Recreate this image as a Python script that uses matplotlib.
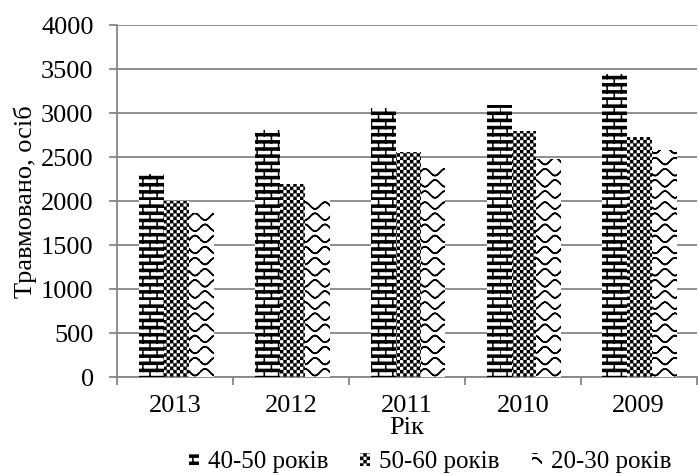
import warnings
import numpy as np
import matplotlib
matplotlib.use("Agg")
import matplotlib.pyplot as plt
from matplotlib import hatch as mhatch
from matplotlib.path import Path

warnings.filterwarnings("ignore")

years = ["2013", "2012", "2011", "2010", "2009"]
age_40_50 = [2310, 2810, 3060, 3090, 3450]
age_50_60 = [2000, 2200, 2560, 2800, 2730]
age_20_30 = [1860, 2030, 2390, 2480, 2580]
series_names = ["40-50 років", "50-60 років", "20-30 років"]
yticks = [0, 500, 1000, 1500, 2000, 2500, 3000, 3500, 4000]


# custom hatches: brick wall, fine checker, wave
class BrickHatch(mhatch.HatchPatternBase):
    def __init__(self, hatch, density):
        self.on = "b" in hatch
        self.rows, self.cols = 14, 7
        self.thick = (0.0, 0.01, 0.02)
        self.num_vertices = (self.rows * 2 * len(self.thick) + self.rows * self.cols * 2) if self.on else 0

    def set_vertices_and_codes(self, vertices, codes):
        k = 0
        for i in range(self.rows):
            y0 = i / self.rows
            for dy in self.thick:
                vertices[k] = (0, y0 + dy)
                vertices[k + 1] = (1, y0 + dy)
                codes[k] = Path.MOVETO
                codes[k + 1] = Path.LINETO
                k += 2
            for j in range(self.cols):
                x = (j + 0.5 * (i % 2)) / self.cols
                vertices[k] = (x, y0)
                vertices[k + 1] = (x, y0 + 1 / self.rows)
                codes[k] = Path.MOVETO
                codes[k + 1] = Path.LINETO
                k += 2


class CheckerHatch(mhatch.HatchPatternBase):
    def __init__(self, hatch, density):
        self.on = "c" in hatch
        self.n = 30
        self.cells = [(i, j) for i in range(self.n) for j in range(self.n) if (i + j) % 2 == 0]
        self.num_vertices = len(self.cells) * 5 if self.on else 0

    def set_vertices_and_codes(self, vertices, codes):
        s = 0.3 / self.n
        k = 0
        for i, j in self.cells:
            x, y = (i + 0.5) / self.n, (j + 0.5) / self.n
            vertices[k:k + 5] = [(x - s, y - s), (x + s, y - s), (x + s, y + s), (x - s, y + s), (x - s, y - s)]
            codes[k:k + 5] = [Path.MOVETO, Path.LINETO, Path.LINETO, Path.LINETO, Path.CLOSEPOLY]
            k += 5


class WaveHatch(mhatch.HatchPatternBase):
    def __init__(self, hatch, density):
        self.on = "w" in hatch
        self.rows, self.waves, self.pts = 9, 5, 80
        self.num_vertices = self.rows * (self.pts - 1) * 2 if self.on else 0

    def set_vertices_and_codes(self, vertices, codes):
        t = np.linspace(0, 1, self.pts)
        k = 0
        for i in range(self.rows):
            phase = np.pi * (i % 2)
            y = (i + 0.5) / self.rows + 0.3 / self.rows * np.sin(2 * np.pi * self.waves * t + phase)
            for a in range(self.pts - 1):
                vertices[k] = (t[a], y[a])
                vertices[k + 1] = (t[a + 1], y[a + 1])
                codes[k] = Path.MOVETO
                codes[k + 1] = Path.LINETO
                k += 2


mhatch._hatch_types.extend([BrickHatch, CheckerHatch, WaveHatch])

plt.rcParams["font.family"] = ["Liberation Serif", "DejaVu Serif"]
plt.rcParams["hatch.linewidth"] = 1.1
plt.rcParams["hatch.color"] = "black"

fig = plt.figure(figsize=(6.98, 4.75), dpi=100)
ax = fig.add_axes([0.168, 0.206, 0.83, 0.741])

x = np.arange(len(years))
w = 0.215
hatches = ["b", "c", "w"]
for vals, off, h, name in zip([age_40_50, age_50_60, age_20_30], [-w, 0, w], hatches, series_names):
    ax.bar(x + off + 0.01, vals, width=w, facecolor="white", edgecolor="black",
           linewidth=0, hatch=h, label=name, zorder=3)

ax.set_ylim(0, 4000)
ax.set_xlim(-0.5, len(years) - 0.5)
ax.set_yticks(yticks)
ax.yaxis.grid(True, color="#868686", linewidth=1.3, zorder=0)
ax.set_axisbelow(True)

ax.set_xticks(x)
ax.set_xticklabels(years)
ax.set_xticks(np.arange(-0.5, len(years)), minor=True)
ax.tick_params(axis="x", which="major", length=0, pad=13, labelsize=19)
ax.tick_params(axis="x", which="minor", length=6, width=1.3, color="#868686")
ax.tick_params(axis="y", length=6, width=1.3, color="#868686", labelsize=19, pad=11)

for side in ("top", "right"):
    ax.spines[side].set_visible(False)
for side in ("left", "bottom"):
    ax.spines[side].set_color("#868686")
    ax.spines[side].set_linewidth(1.3)

ax.set_ylabel("Травмовано, осіб", fontsize=19, labelpad=3)
ax.set_xlabel("Рік", fontsize=19, labelpad=0)

fig.legend(loc="center", bbox_to_anchor=(0.616, 0.027), ncol=3, frameon=False,
           fontsize=18, handlelength=0.4, handleheight=0.45, handletextpad=0.35,
           columnspacing=1.3, borderpad=0)

fig.savefig("out.png", dpi=100)
